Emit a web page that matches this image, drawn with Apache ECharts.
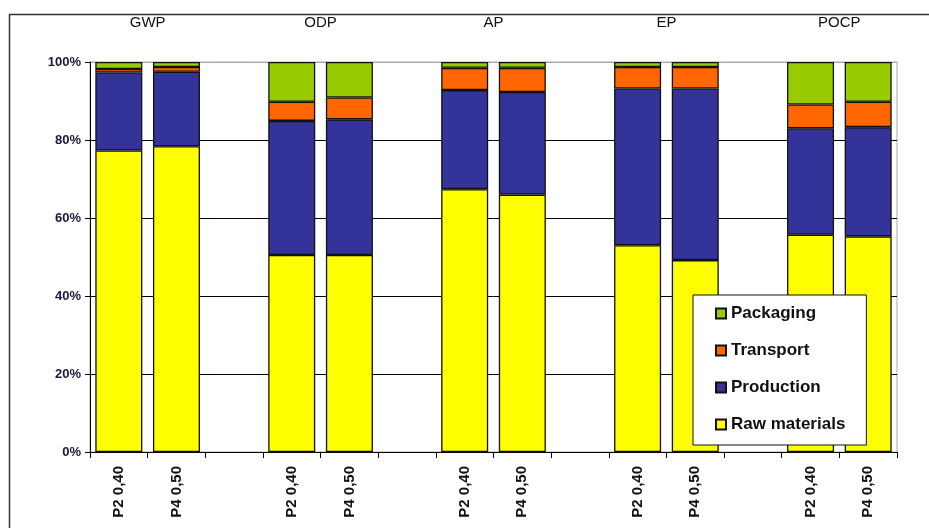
<!DOCTYPE html>
<html>
<head>
<meta charset="utf-8">
<script src="https://cdn.jsdelivr.net/npm/echarts@6/dist/echarts.min.js"></script>
<style>
html,body{margin:0;padding:0;background:#fff;}
#chart{width:929px;height:528px;}
</style>
</head>
<body>
<div id="chart"></div>
<script>
// Categories (blank slots separate the impact groups)
var categories = ['P2 0,40','P4 0,50','','P2 0,40','P4 0,50','','P2 0,40','P4 0,50','','P2 0,40','P4 0,50','','P2 0,40','P4 0,50'];
// Group headings and the slot (boundary) where each is centred
var groups = ['GWP','ODP','AP','EP','POCP'];
var groupPositions = [1, 4, 7, 10, 13];
// Shares in percent, per category slot (null = blank slot)
var rawMaterials = [77.3, 78.4, null, 50.5, 50.5, null, 67.4, 66.0, null, 53.0, 49.2, null, 55.7, 55.3];
var production   = [20.0, 19.1, null, 34.4, 34.8, null, 25.4, 26.3, null, 40.2, 44.0, null, 27.3, 28.0];
var transport    = [0.9, 1.2, null, 4.9, 5.6, null, 5.7, 6.2, null, 5.5, 5.5, null, 6.1, 6.5];
var packaging    = [1.8, 1.3, null, 10.2, 9.1, null, 1.5, 1.5, null, 1.3, 1.3, null, 10.9, 10.2];
var yTicks = [0, 20, 40, 60, 80, 100];

var chart = echarts.init(document.getElementById('chart'));
var barStyle = function (color) {
  return { color: color, borderColor: '#111', borderWidth: 1.3 };
};
var mkSeries = function (name, data, color) {
  return {
    name: name, type: 'bar', stack: 'total', data: data,
    barWidth: 47, xAxisIndex: 0, yAxisIndex: 0,
    itemStyle: barStyle(color),
    emphasis: { disabled: true }
  };
};
var groupMap = {};
groups.forEach(function (g, i) { groupMap[groupPositions[i]] = g; });

chart.setOption({
  animation: false,
  backgroundColor: '#fff',
  textStyle: { fontFamily: 'Liberation Sans, Arial, sans-serif' },
  graphic: [{
    type: 'rect', left: 7, top: 12,
    shape: { width: 940, height: 540 },
    style: { fill: 'none', stroke: '#333', lineWidth: 1.5 },
    silent: true
  }],
  grid: {
    left: 90, right: 32, top: 62, bottom: 76,
    show: true, borderColor: '#aaa', borderWidth: 1, backgroundColor: 'transparent'
  },
  legend: {
    orient: 'vertical', left: 693, top: 295,
    data: ['Packaging', 'Transport', 'Production', 'Raw materials'],
    backgroundColor: '#fff', borderColor: '#111', borderWidth: 1,
    padding: [10, 21, 12, 22],
    itemWidth: 10, itemHeight: 10, itemGap: 20,
    icon: 'rect',
    textStyle: { fontSize: 17, lineHeight: 17, fontWeight: 'bold', color: '#111', fontFamily: 'Liberation Sans, Arial, sans-serif' }
  },
  xAxis: [{
    type: 'category', data: categories, position: 'bottom',
    axisLine: { lineStyle: { color: '#000', width: 1 } },
    axisTick: { show: true, length: 6, lineStyle: { color: '#000' } },
    axisLabel: { rotate: 90, margin: 14, interval: 0, fontSize: 15, fontWeight: 'bold', color: '#111' },
    splitLine: { show: false }
  }, {
    type: 'value', position: 'top', min: 0, max: categories.length, interval: 1,
    axisLine: { show: false }, axisTick: { show: false }, splitLine: { show: false },
    axisLabel: {
      margin: 32, fontSize: 15, color: '#111', showMinLabel: true, showMaxLabel: true,
      formatter: function (v) { return groupMap[v] || ''; }
    }
  }],
  yAxis: {
    type: 'value', min: yTicks[0], max: yTicks[yTicks.length - 1], interval: 20,
    axisLine: { show: true, lineStyle: { color: '#000' } },
    axisTick: { show: true, length: 5, lineStyle: { color: '#000' } },
    axisLabel: { formatter: '{value}%', fontSize: 13, fontWeight: 'bold', color: '#1a1a3a', margin: 9 },
    splitLine: { show: true, lineStyle: { color: ['#000', '#000', '#000', '#000', '#000', '#aaa'], width: 1 } }
  },
  series: [
    mkSeries('Raw materials', rawMaterials, '#FFFF00'),
    mkSeries('Production', production, '#333399'),
    mkSeries('Transport', transport, '#FF6600'),
    mkSeries('Packaging', packaging, '#99CC00')
  ]
});
</script>
</body>
</html>
